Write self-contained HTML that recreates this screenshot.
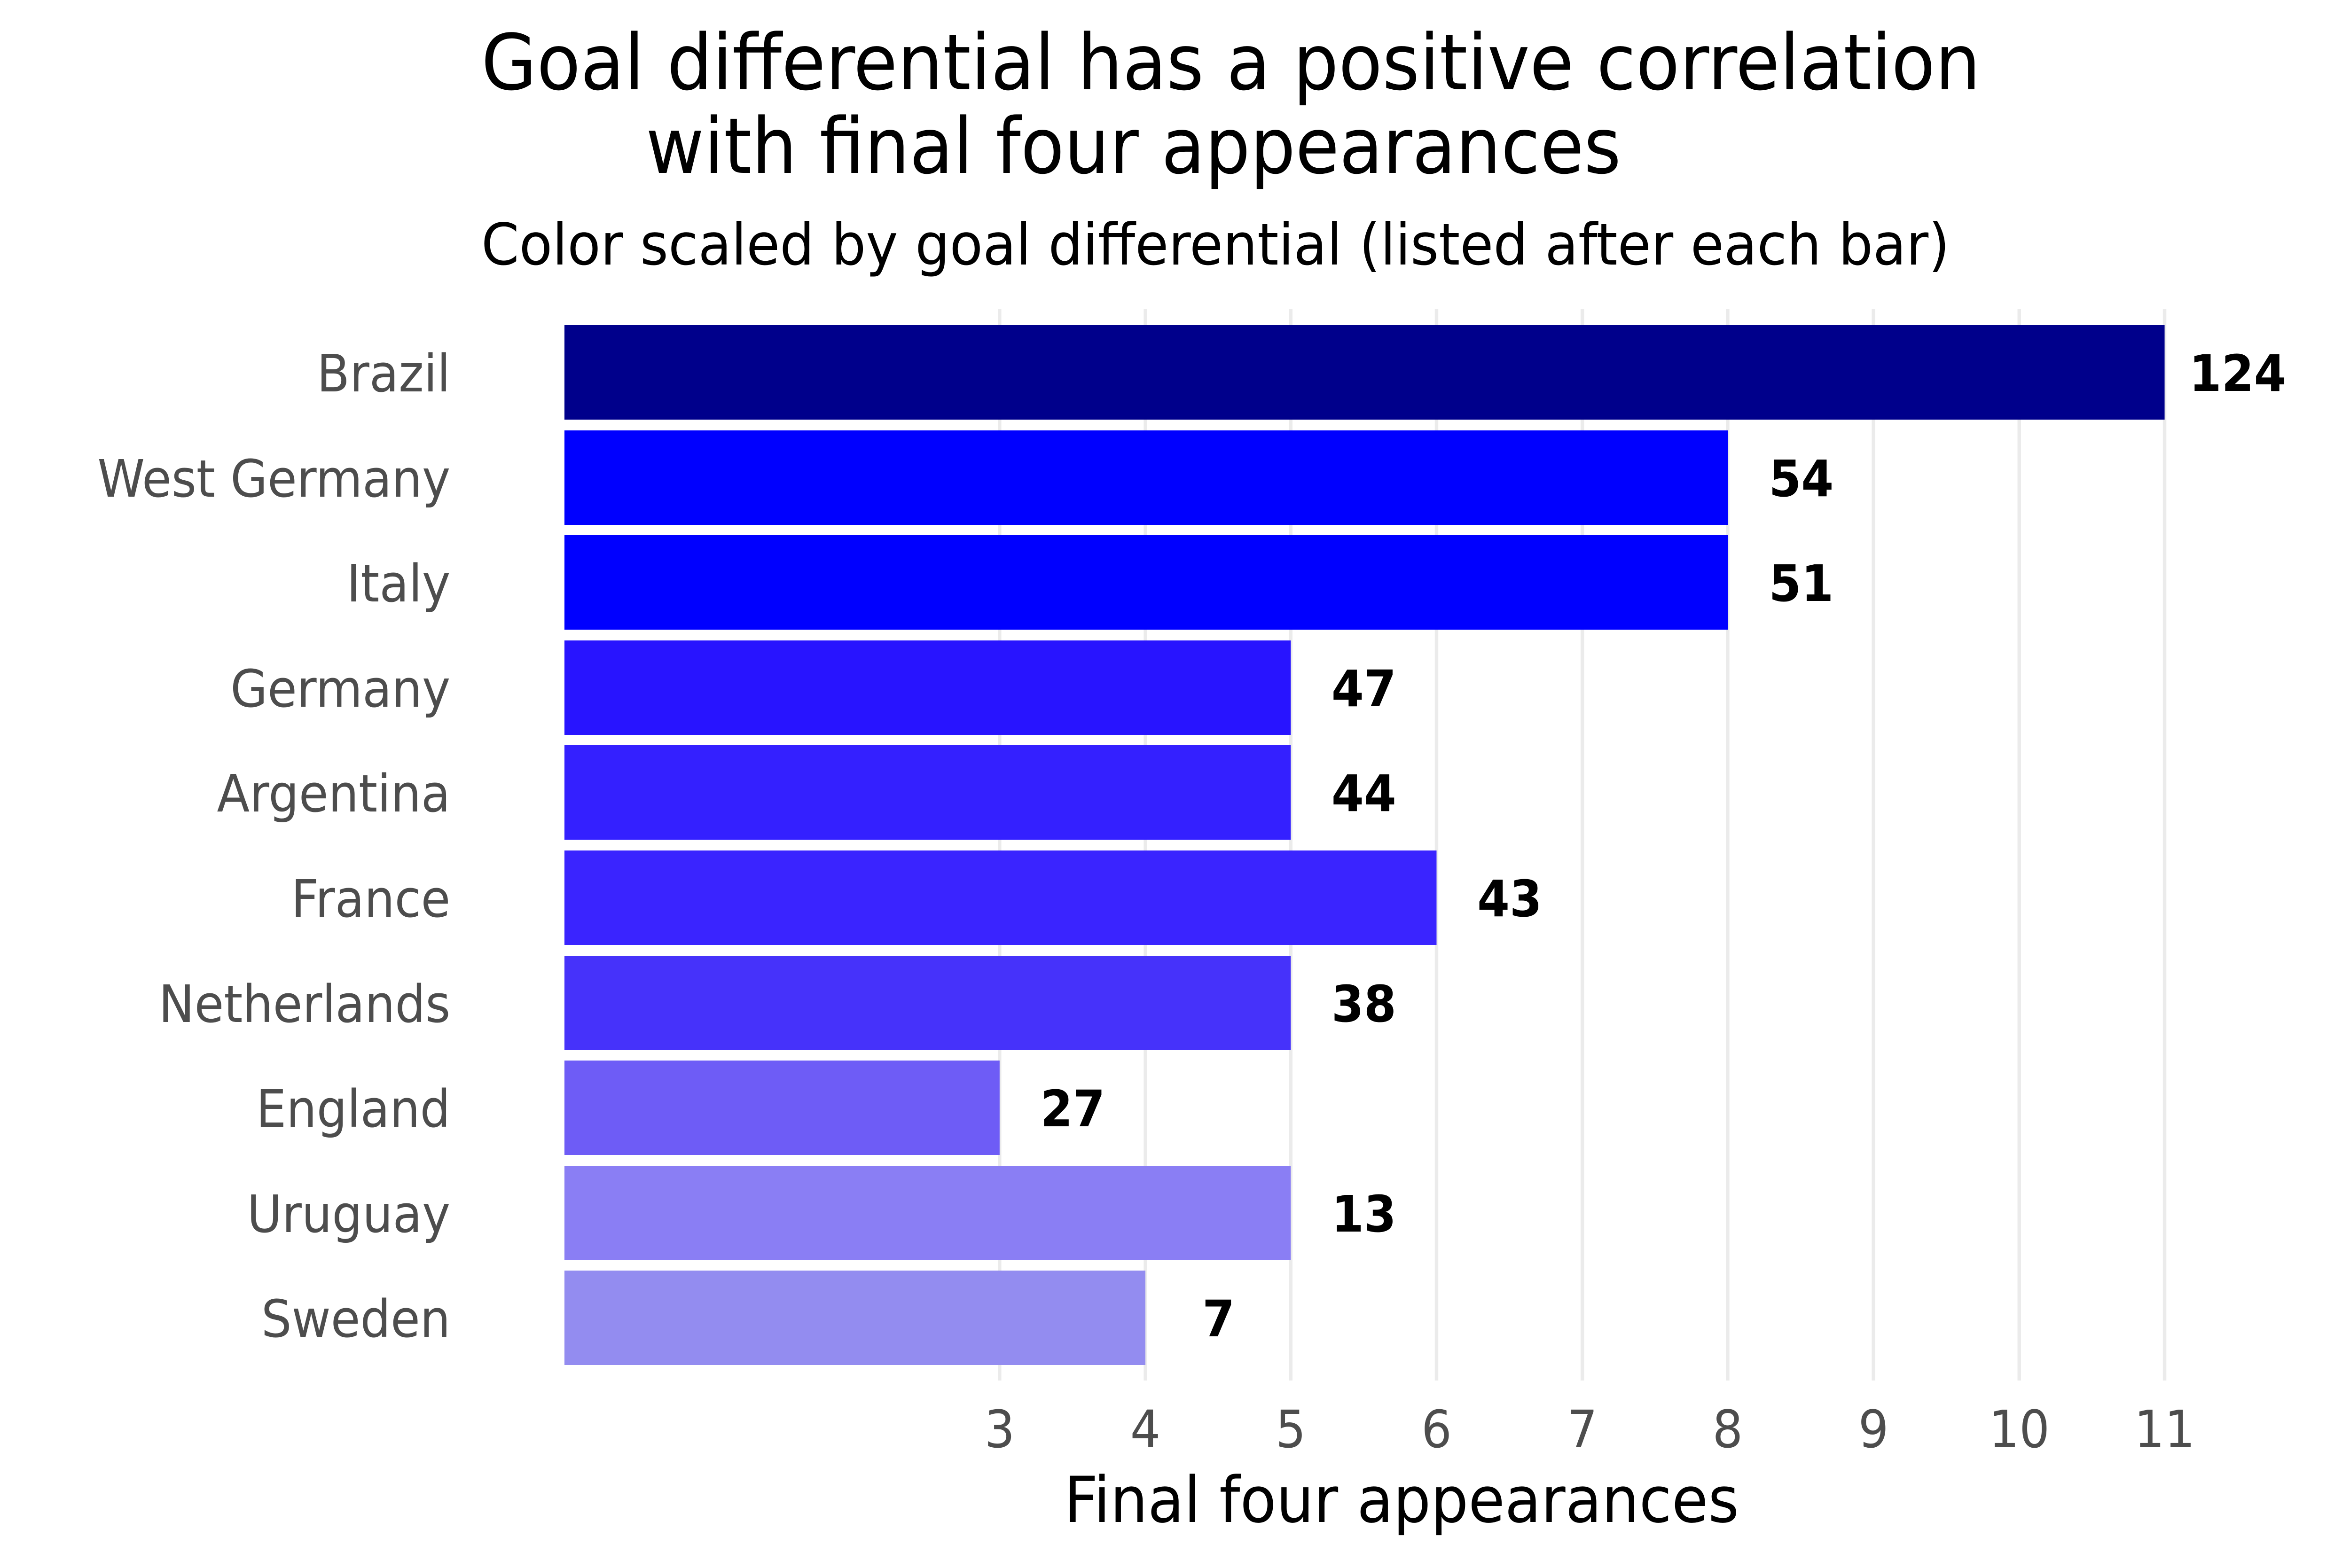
<!DOCTYPE html>
<html><head><meta charset="utf-8"><style>html,body{margin:0;padding:0;background:#fff;overflow:hidden;width:100%;height:100%}svg{display:block;width:100vw;height:100vh}</style></head>
<body>
<svg viewBox="0 0 5400 3337" preserveAspectRatio="none" xmlns="http://www.w3.org/2000/svg" font-family="DejaVu Sans, Liberation Sans, sans-serif">
<rect width="5400" height="3337" fill="#fff"/>
<g stroke="#ebebeb" stroke-width="8">
<line x1="2297" y1="658" x2="2297" y2="2938"/>
<line x1="2632" y1="658" x2="2632" y2="2938"/>
<line x1="2966" y1="658" x2="2966" y2="2938"/>
<line x1="3301" y1="658" x2="3301" y2="2938"/>
<line x1="3636" y1="658" x2="3636" y2="2938"/>
<line x1="3970" y1="658" x2="3970" y2="2938"/>
<line x1="4305" y1="658" x2="4305" y2="2938"/>
<line x1="4640" y1="658" x2="4640" y2="2938"/>
<line x1="4974" y1="658" x2="4974" y2="2938"/>
</g>
<g>
<rect x="1297" y="692" width="3677" height="201" fill="#00008b"/>
<rect x="1297" y="916" width="2674" height="201" fill="#0000ff"/>
<rect x="1297" y="1139" width="2674" height="201" fill="#0000ff"/>
<rect x="1297" y="1363" width="1669" height="201" fill="#2814ff"/>
<rect x="1297" y="1586" width="1669" height="201" fill="#3420ff"/>
<rect x="1297" y="1810" width="2004" height="201" fill="#3a24ff"/>
<rect x="1297" y="2034" width="1669" height="201" fill="#4632fa"/>
<rect x="1297" y="2257" width="1000" height="201" fill="#6e5cf6"/>
<rect x="1297" y="2481" width="1669" height="201" fill="#8a7ef4"/>
<rect x="1297" y="2704" width="1335" height="201" fill="#938cf0"/>
</g>
<g font-size="110" fill="#4d4d4d" text-anchor="end">
<text x="1035" y="833">Brazil</text>
<text x="1035" y="1057">West Germany</text>
<text x="1035" y="1280">Italy</text>
<text x="1035" y="1504">Germany</text>
<text x="1035" y="1727">Argentina</text>
<text x="1035" y="1951">France</text>
<text x="1035" y="2175">Netherlands</text>
<text x="1035" y="2398">England</text>
<text x="1035" y="2622">Uruguay</text>
<text x="1035" y="2845">Sweden</text>
</g>
<g font-size="107" font-weight="bold" fill="#000" text-anchor="middle">
<text x="5142" y="832">124</text>
<text x="4139" y="1056">54</text>
<text x="4139" y="1279">51</text>
<text x="3134" y="1503">47</text>
<text x="3134" y="1726">44</text>
<text x="3469" y="1950">43</text>
<text x="3134" y="2174">38</text>
<text x="2465" y="2397">27</text>
<text x="3134" y="2621">13</text>
<text x="2800" y="2844">7</text>
</g>
<g font-size="110" fill="#4d4d4d" text-anchor="middle">
<text x="2297" y="3080">3</text>
<text x="2632" y="3080">4</text>
<text x="2966" y="3080">5</text>
<text x="3301" y="3080">6</text>
<text x="3636" y="3080">7</text>
<text x="3970" y="3080">8</text>
<text x="4305" y="3080">9</text>
<text x="4640" y="3080">10</text>
<text x="4974" y="3080">11</text>
</g>
<text x="2445" y="3239" font-size="135" fill="#000" textLength="1551" lengthAdjust="spacingAndGlyphs">Final four appearances</text>
<text x="1106" y="190" font-size="164" fill="#000" textLength="3445" lengthAdjust="spacingAndGlyphs">Goal differential has a positive correlation</text>
<text x="1484" y="368" font-size="164" fill="#000" textLength="2241" lengthAdjust="spacingAndGlyphs">with final four appearances</text>
<text x="1106" y="563" font-size="122" fill="#000" textLength="3374" lengthAdjust="spacingAndGlyphs">Color scaled by goal differential (listed after each bar)</text>
</svg>
</body></html>
